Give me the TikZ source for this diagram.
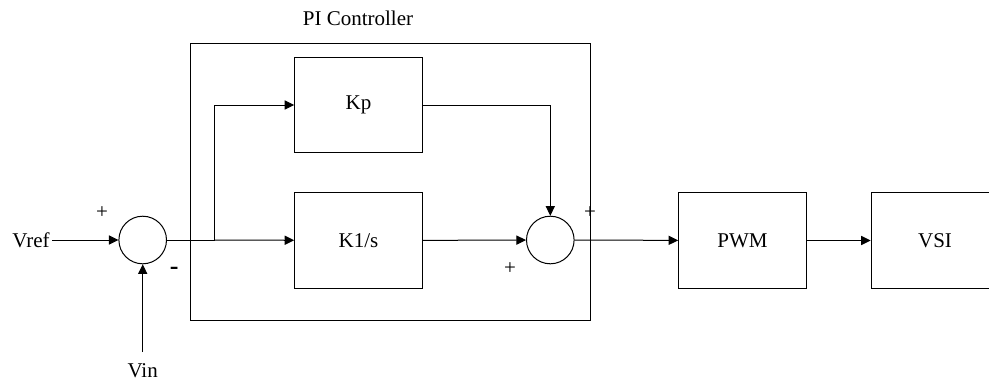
\documentclass[tikz,border=0pt]{standalone}
\usepackage{fontspec}
\setmainfont{Liberation Serif}
\usetikzlibrary{arrows.meta,positioning}

\begin{document}
\begin{tikzpicture}[
  x=0.5pt, y=-0.5pt,
  >={Triangle[length=4.8pt,width=4.6pt]},
  line width=0.5pt,
  font=\fontsize{10.5}{12.6}\selectfont,
  blk/.style={draw, minimum width=63.8pt, minimum height=47.8pt, inner sep=0pt},
  sum/.style={draw, circle, minimum size=23.8pt, inner sep=0pt},
  sgn/.style={inner sep=0pt},
]
\useasboundingbox (0,0) rectangle (989,381);
% controller frame
\node[draw, minimum width=199.8pt, minimum height=138.3pt, inner sep=0pt] (pi) at (390.5,181.7) {};
\node (pilabel) at (358,18) {PI Controller};
% blocks and junctions
\node[sum] (sumA) at (142.7,240) {};
\node[blk] (kp) at (358.5,105) {Kp};
\node[blk] (ki) at (358.5,240.5) {K1/s};
\node[sum] (sumB) at (550.3,240) {};
\node[blk] (pwm) at (742.5,240.5) {PWM};
\node[blk] (vsi) at (935,240.5) {VSI};
% inputs
\node[inner sep=1pt] (vref) at (31,240) {Vref};
\node (vin) at (142.7,371) {Vin};
\coordinate (vin0) at (142.7,352);
\coordinate (split) at (214.7,240);
% signs
\node[sgn] (pA) at (102,213) {+};
\node[sgn, font=\fontsize{13}{14}\selectfont] (mA) at (174.3,270.5) {\textbf{-}};
\node[sgn] (pB) at (590,213) {+};
\node[sgn] (qB) at (510,269) {+};
% connectors
\draw[->] (vref) -- (sumA);
\draw[->] (vin0) -- (sumA);
\draw (sumA) -- (split);
\draw[->] (split) -- (ki);
\draw[->] (split) |- (kp);
\draw[->] (kp) -| (sumB);
\draw[->] (ki) -- (sumB);
\draw[->] (sumB) -- (pwm);
\draw[->] (pwm) -- (vsi);
\end{tikzpicture}
\end{document}
